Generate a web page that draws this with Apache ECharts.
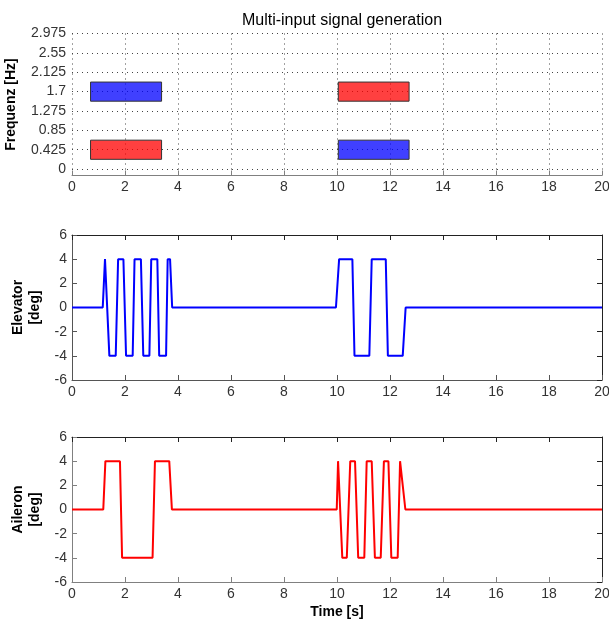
<!DOCTYPE html>
<html>
<head>
<meta charset="utf-8">
<script src="https://cdn.jsdelivr.net/npm/echarts@6/dist/echarts.min.js"></script>
<style>
html,body{margin:0;padding:0;background:#fff;}
#chart{width:609px;height:623px;}
</style>
</head>
<body>
<div id="chart"></div>
<script>
// ---- data ----
const titleText = 'Multi-input signal generation';
const freqTicks = [0, 0.425, 0.85, 1.275, 1.7, 2.125, 2.55, 2.975];
const degTicks = [-6, -4, -2, 0, 2, 4, 6];
const timeTicks = [0, 2, 4, 6, 8, 10, 12, 14, 16, 18, 20];

// frequency blocks (top panel)
const blockInput = ['Elevator', 'Aileron', 'Aileron', 'Elevator'];
const blockStart = [0.7, 0.7, 10.05, 10.05];
const blockEnd = [3.38, 3.38, 12.72, 12.72];
const blockLow = [1.49, 0.215, 1.49, 0.215];
const blockHigh = [1.91, 0.635, 1.91, 0.635];

// elevator signal
const elevatorT = [0, 1.16, 1.245, 1.31, 1.41, 1.65, 1.74, 1.94, 2.04, 2.29, 2.36, 2.60, 2.69, 2.92, 2.99, 3.22, 3.29, 3.55, 3.61, 3.70, 3.78,
  9.96, 10.08, 10.58, 10.66, 11.22, 11.31, 11.84, 11.92, 12.48, 12.59, 20];
const elevatorV = [0, 0, 4, 4, -4, -4, 4, 4, -4, -4, 4, 4, -4, -4, 4, 4, -4, -4, 4, 4, 0,
  0, 4, 4, -4, -4, 4, 4, -4, -4, 0, 0];

// aileron signal
const aileronT = [0, 1.18, 1.26, 1.81, 1.89, 3.04, 3.13, 3.67, 3.77,
  9.99, 10.04, 10.09, 10.20, 10.37, 10.50, 10.68, 10.80, 11.03, 11.12, 11.31, 11.43, 11.65, 11.77, 11.94, 12.05, 12.29, 12.38, 12.44, 12.58, 20];
const aileronV = [0, 0, 4, 4, -4, -4, 4, 4, 0,
  0, 4, 4, -4, -4, 4, 4, -4, -4, 4, 4, -4, -4, 4, 4, -4, -4, 4, 4, 0, 0];

// ---- build ----
const FONT = '"Liberation Sans", Arial, sans-serif';
const colorOf = {Elevator: 'rgba(0,0,255,0.75)', Aileron: 'rgba(255,0,0,0.75)'};
const blockData = blockInput.map((n, i) => [blockStart[i], blockEnd[i], blockLow[i], blockHigh[i], n]);
const elevatorData = elevatorT.map((t, i) => [t, elevatorV[i]]);
const aileronData = aileronT.map((t, i) => [t, aileronV[i]]);

const tickLabel = {fontFamily: FONT, fontSize: 14, color: '#333'};
const nameStyle = {fontFamily: FONT, fontSize: 14, fontWeight: 'bold', color: '#000', lineHeight: 17};
const dotted = {type: [1, 4], color: '#444', width: 1};

function xBottom(grid, axisColor, extra) {
  return Object.assign({
    type: 'value', gridIndex: grid, min: 0, max: 20, interval: 2, position: 'bottom',
    axisLine: {show: true, onZero: false, lineStyle: {color: axisColor, width: 1}},
    axisTick: {show: true, inside: true, length: 5, lineStyle: {color: axisColor}},
    axisLabel: Object.assign({margin: 5, formatter: v => String(v)}, tickLabel),
    splitLine: {show: false}
  }, extra || {});
}
function xTop(grid) {
  return {
    type: 'value', gridIndex: grid, min: 0, max: 20, interval: 2, position: 'top',
    axisLine: {show: true, onZero: false, lineStyle: {color: '#222', width: 1}},
    axisTick: {show: true, inside: true, length: 5, lineStyle: {color: '#222'}},
    axisLabel: {show: false}, splitLine: {show: false}
  };
}
function yLeft(grid, axisColor, name, gap) {
  return {
    type: 'value', gridIndex: grid, min: -6, max: 6, interval: 2, position: 'left',
    name: name, nameLocation: 'middle', nameRotate: 90, nameGap: gap, nameTextStyle: nameStyle,
    axisLine: {show: true, onZero: false, lineStyle: {color: axisColor, width: 1}},
    axisTick: {show: true, inside: true, length: 5, lineStyle: {color: axisColor}},
    axisLabel: Object.assign({margin: 5}, tickLabel),
    splitLine: {show: false}
  };
}
function yRight(grid) {
  return {
    type: 'value', gridIndex: grid, min: -6, max: 6, interval: 2, position: 'right',
    axisLine: {show: true, onZero: false, lineStyle: {color: '#222', width: 1}},
    axisTick: {show: true, inside: true, length: 5, lineStyle: {color: '#222'}},
    axisLabel: {show: false}, splitLine: {show: false}
  };
}

const option = {
  animation: false,
  backgroundColor: '#fff',
  title: {
    text: titleText, left: 337, top: 8, textAlign: 'center',
    textStyle: {fontFamily: FONT, fontSize: 16, fontWeight: 'normal', color: '#000'}
  },
  grid: [
    {left: 72, right: 7, top: 33.5, height: 142, outerBoundsMode: 'none', containLabel: false},
    {left: 72, right: 7, top: 235, height: 145, outerBoundsMode: 'none', containLabel: false},
    {left: 72, right: 7, top: 437, height: 145, outerBoundsMode: 'none', containLabel: false}
  ],
  xAxis: [
    xBottom(0, '#808080', {splitLine: {show: true, lineStyle: dotted}}),
    xBottom(1, '#555'),
    xTop(1),
    xBottom(2, '#808080', {name: 'Time [s]', nameLocation: 'middle', nameGap: 22, nameTextStyle: nameStyle}),
    xTop(2)
  ],
  yAxis: [
    {
      type: 'value', gridIndex: 0, min: -0.14, max: 2.975, position: 'left',
      name: 'Frequenz [Hz]', nameLocation: 'middle', nameRotate: 90, nameGap: 47, nameTextStyle: nameStyle,
      axisLine: {show: false},
      axisTick: {show: false, customValues: freqTicks},
      axisLabel: Object.assign({margin: 6, customValues: freqTicks, formatter: v => String(v)}, tickLabel),
      splitLine: {show: true, customValues: freqTicks, lineStyle: dotted}
    },
    yLeft(1, '#555', 'Elevator\n[deg]', 20),
    yRight(1),
    yLeft(2, '#808080', 'Aileron\n[deg]', 21),
    yRight(2)
  ],
  series: [
    {
      type: 'custom', xAxisIndex: 0, yAxisIndex: 0, z: 1,
      data: blockData,
      encode: {x: [0, 1], y: [2, 3]},
      renderItem: function (params, api) {
        const p0 = api.coord([api.value(0), api.value(3)]);
        const p1 = api.coord([api.value(1), api.value(2)]);
        const name = blockData[params.dataIndex][4];
        return {
          type: 'rect',
          shape: {x: p0[0], y: p0[1], width: p1[0] - p0[0], height: p1[1] - p0[1]},
          style: {fill: colorOf[name], stroke: '#333', lineWidth: 1}
        };
      }
    },
    {
      type: 'line', xAxisIndex: 1, yAxisIndex: 1, data: elevatorData, showSymbol: false,
      lineStyle: {color: '#0000ff', width: 2}, itemStyle: {color: '#0000ff'}
    },
    {
      type: 'line', xAxisIndex: 3, yAxisIndex: 3, data: aileronData, showSymbol: false,
      lineStyle: {color: '#ff0000', width: 2}, itemStyle: {color: '#ff0000'}
    }
  ]
};

const chart = echarts.init(document.getElementById('chart'), null, {renderer: 'canvas'});
chart.setOption(option);
</script>
</body>
</html>
